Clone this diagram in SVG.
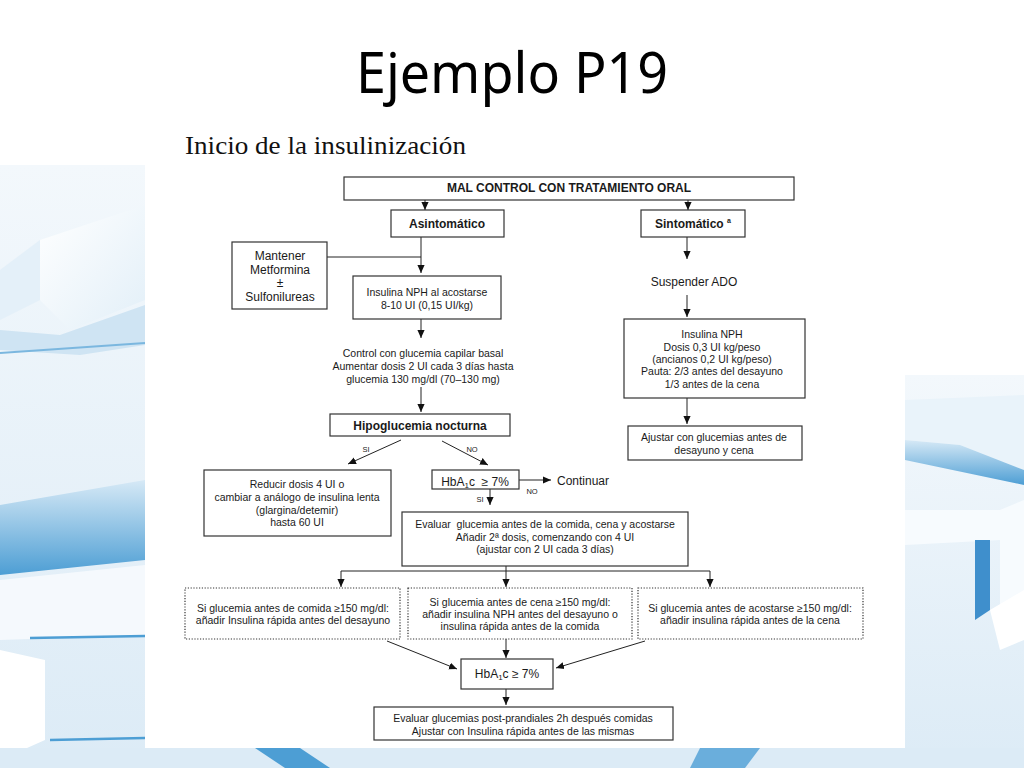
<svg xmlns="http://www.w3.org/2000/svg" width="1024" height="768" viewBox="0 0 1024 768">
<defs>
<marker id="ah" viewBox="0 0 10 10" refX="10" refY="5" markerUnits="userSpaceOnUse" markerWidth="8" markerHeight="8" orient="auto">
<path d="M0,0.5 L10,5 L0,9.5 z" fill="#111"/>
</marker>
<linearGradient id="bgL" x1="0" y1="0" x2="0" y2="1">
<stop offset="0" stop-color="#f3f8fc"/><stop offset="1" stop-color="#dcebf6"/>
</linearGradient>
<linearGradient id="band" x1="0" y1="0" x2="0" y2="1">
<stop offset="0" stop-color="#d6e9f6"/><stop offset="1" stop-color="#4d9ed4"/>
</linearGradient>
<linearGradient id="face" x1="0" y1="0" x2="1" y2="1">
<stop offset="0" stop-color="#ffffff"/><stop offset="1" stop-color="#e2eff8"/>
</linearGradient>
<style>
.box{fill:#fff;stroke:#333;stroke-width:1.2}
.dot{fill:#fff;stroke:#333;stroke-width:1.2;stroke-dasharray:1.2 1.6}
.ln{fill:none;stroke:#222;stroke-width:1}
.ar{fill:none;stroke:#222;stroke-width:1;marker-end:url(#ah)}
.t{font-family:"Liberation Sans",Arial,sans-serif;font-size:10.5px;fill:#1a1a1a;text-anchor:middle}
.tm{font-family:"Liberation Sans",Arial,sans-serif;font-size:12px;fill:#1a1a1a;text-anchor:middle}
.tb{font-family:"Liberation Sans",Arial,sans-serif;font-size:12px;font-weight:bold;fill:#1a1a1a;text-anchor:middle}
.ts{font-family:"Liberation Sans",Arial,sans-serif;font-size:7.5px;fill:#1a1a1a;text-anchor:middle}
</style>
</defs>
<rect x="0" y="0" width="1024" height="768" fill="#fff"/>
<!-- background pattern -->
<g id="background">
<rect x="0" y="165" width="145" height="603" fill="url(#bgL)"/>
<polygon points="40,240 145,205 145,300 70,330 40,300" fill="url(#face)"/>
<polygon points="0,270 40,240 40,300 0,320" fill="#e4f0f9"/>
<polygon points="0,330 60,335 145,305 145,345 80,355 0,350" fill="#cfe4f3"/>
<line x1="0" y1="353" x2="145" y2="343" stroke="#7bb7df" stroke-width="2"/>
<polygon points="0,505 145,480 145,560 0,575" fill="url(#band)"/>
<polygon points="0,580 145,565 145,635 0,640" fill="#f5f9fd"/>
<line x1="30" y1="638" x2="145" y2="636" stroke="#4d9ed4" stroke-width="2.5"/>
<polygon points="0,650 45,660 45,740 0,760" fill="#ffffff"/>
<line x1="50" y1="740" x2="145" y2="738" stroke="#4d9ed4" stroke-width="2.5"/>
<rect x="905" y="375" width="119" height="393" fill="url(#bgL)"/>
<polygon points="905,400 1024,395 1024,470 960,445 905,440" fill="#e9f3fa"/>
<polygon points="905,440 960,445 1024,470 1024,485 905,460" fill="url(#band)"/>
<polygon points="905,510 1000,510 1024,500 1024,640 1000,640 1000,540 905,545" fill="#f7fbfe"/>
<polygon points="975,540 990,540 990,610 975,620" fill="#3f8fcc"/>
<polygon points="990,610 1024,590 1024,640 1000,650" fill="#ffffff"/>
<rect x="0" y="748" width="1024" height="20" fill="#dcebf6"/>
<polygon points="255,748 300,748 330,768 285,768" fill="#4d9ed4"/>
<polygon points="700,748 760,748 745,768 690,768" fill="#6aaedc"/>
<rect x="145" y="0" width="760" height="748" fill="#fff"/>
</g>
<g id="titles">
<text x="356" y="93" font-family="'Noto Sans','Open Sans',sans-serif" font-size="56" textLength="312" lengthAdjust="spacingAndGlyphs" fill="#000">Ejemplo P19</text>
<text x="185" y="154" font-family="'Liberation Serif','Times New Roman',serif" font-size="26" textLength="281" lengthAdjust="spacingAndGlyphs" fill="#111">Inicio de la insulinización</text>
</g>
<g id="connectors">
<line class="ar" x1="425" y1="200" x2="425" y2="210"/>
<line class="ar" x1="688" y1="200" x2="688" y2="210"/>
<line class="ln" x1="327" y1="257" x2="421" y2="257"/>
<line class="ar" x1="421" y1="237" x2="421" y2="273"/>
<line class="ar" x1="421" y1="319" x2="421" y2="338"/>
<line class="ar" x1="421" y1="387" x2="421" y2="412"/>
<line class="ar" x1="401" y1="440" x2="348" y2="464"/>
<line class="ar" x1="442" y1="441" x2="488" y2="465"/>
<line class="ar" x1="519" y1="480" x2="551" y2="480"/>
<line class="ar" x1="490" y1="488" x2="490" y2="505"/>
<line class="ln" x1="506" y1="566" x2="506" y2="571"/>
<line class="ln" x1="341" y1="571" x2="710" y2="571"/>
<line class="ar" x1="341" y1="571" x2="341" y2="587"/>
<line class="ar" x1="506" y1="571" x2="506" y2="587"/>
<line class="ar" x1="710" y1="571" x2="710" y2="587"/>
<line class="ar" x1="387" y1="641" x2="457" y2="669"/>
<line class="ar" x1="506" y1="639" x2="506" y2="658"/>
<line class="ar" x1="645" y1="641" x2="556" y2="668"/>
<line class="ar" x1="506" y1="689" x2="506" y2="705"/>
<line class="ar" x1="687" y1="237" x2="687" y2="259"/>
<line class="ar" x1="687" y1="295" x2="687" y2="317"/>
<line class="ar" x1="687" y1="398" x2="687" y2="424"/>
<text class="ts" x="366" y="452">SI</text>
<text class="ts" x="472" y="452">NO</text>
<text class="ts" x="532" y="494">NO</text>
<text class="ts" x="480" y="502">SI</text>
</g>
<g id="n-malcontrol">
<rect class="box" x="344" y="177" width="450" height="23"/>
<text class="tb" x="569" y="192">MAL CONTROL CON TRATAMIENTO ORAL</text>
</g>
<g id="n-asintomatico">
<rect class="box" x="391" y="210" width="113" height="27"/>
<text class="tb" x="447" y="228">Asintomático</text>
</g>
<g id="n-sintomatico">
<rect class="box" x="641" y="210" width="104" height="27"/>
<text class="tb" x="693" y="228">Sintomático <tspan font-size="7" dy="-5">a</tspan></text>
</g>
<g id="n-mantener">
<rect class="box" x="232" y="242" width="95" height="67"/>
<text class="tm" x="280" y="260">Mantener</text>
<text class="tm" x="280" y="274">Metformina</text>
<text class="tm" x="280" y="287">±</text>
<text class="tm" x="280" y="301">Sulfonilureas</text>
</g>
<g id="n-nph-acostarse">
<rect class="box" x="353" y="276" width="148" height="43"/>
<text class="t" x="427" y="296">Insulina NPH al acostarse</text>
<text class="t" x="427" y="309">8-10 UI (0,15 UI/kg)</text>
</g>
<g id="n-control">
<text class="t" x="423" y="357">Control con glucemia capilar basal</text>
<text class="t" x="423" y="370">Aumentar dosis 2 UI cada 3 días hasta</text>
<text class="t" x="423" y="383">glucemia 130 mg/dl (70–130 mg)</text>
</g>
<g id="n-hipoglucemia">
<rect class="box" x="330" y="414" width="180" height="22"/>
<text class="tb" x="420" y="430">Hipoglucemia nocturna</text>
</g>
<g id="n-reducir">
<rect class="box" x="204" y="470" width="187" height="66"/>
<text class="t" x="297" y="488">Reducir dosis 4 UI o</text>
<text class="t" x="297" y="501">cambiar a análogo de insulina lenta</text>
<text class="t" x="297" y="514">(glargina/detemir)</text>
<text class="t" x="297" y="526">hasta 60 UI</text>
</g>
<g id="n-hba1c-1">
<rect class="box" x="432" y="470" width="87" height="19"/>
<text class="tm" x="475" y="486" xml:space="preserve">HbA<tspan font-size="8" dy="2">1</tspan><tspan dy="-2">c  ≥ 7%</tspan></text>
</g>
<g id="n-continuar">
<text class="tm" x="557" y="485" text-anchor="start" style="text-anchor:start">Continuar</text>
</g>
<g id="n-evaluar">
<rect class="box" x="402" y="512" width="286" height="54"/>
<text class="t" x="545" y="528" xml:space="preserve">Evaluar  glucemia antes de la comida, cena y acostarse</text>
<text class="t" x="545" y="541">Añadir 2ª dosis, comenzando con 4 UI</text>
<text class="t" x="545" y="553">(ajustar con 2 UI cada 3 días)</text>
</g>
<g id="n-comida">
<rect class="dot" x="185" y="588" width="215" height="51"/>
<text class="t" x="293" y="612">Si glucemia antes de comida ≥150 mg/dl:</text>
<text class="t" x="293" y="624">añadir Insulina rápida antes del desayuno</text>
</g>
<g id="n-cena">
<rect class="dot" x="408" y="588" width="224" height="51"/>
<text class="t" x="520" y="606">Si glucemia antes de cena ≥150 mg/dl:</text>
<text class="t" x="520" y="618">añadir insulina NPH antes del desayuno o</text>
<text class="t" x="520" y="630">insulina rápida antes de la comida</text>
</g>
<g id="n-acostarse">
<rect class="dot" x="638" y="588" width="225" height="51"/>
<text class="t" x="750" y="612">Si glucemia antes de acostarse ≥150 mg/dl:</text>
<text class="t" x="750" y="624">añadir insulina rápida antes de la cena</text>
</g>
<g id="n-hba1c-2">
<rect class="box" x="461" y="659" width="92" height="30"/>
<text class="tm" x="507" y="678">HbA<tspan font-size="8" dy="2">1</tspan><tspan dy="-2">c ≥ 7%</tspan></text>
</g>
<g id="n-final">
<rect class="box" x="374" y="707" width="299" height="33"/>
<text class="t" x="523" y="722">Evaluar glucemias post-prandiales 2h después comidas</text>
<text class="t" x="523" y="735">Ajustar con Insulina rápida antes de las mismas</text>
</g>
<g id="n-suspender">
<text class="tm" x="694" y="286">Suspender ADO</text>
</g>
<g id="n-nph-right">
<rect class="box" x="624" y="319" width="181" height="79"/>
<text class="t" x="712" y="338">Insulina NPH</text>
<text class="t" x="712" y="351">Dosis 0,3 UI kg/peso</text>
<text class="t" x="712" y="363">(ancianos 0,2 UI kg/peso)</text>
<text class="t" x="712" y="375">Pauta: 2/3 antes del desayuno</text>
<text class="t" x="712" y="388">1/3 antes de la cena</text>
</g>
<g id="n-ajustar">
<rect class="box" x="628" y="426" width="174" height="34"/>
<text class="t" x="714" y="441">Ajustar con glucemias antes de</text>
<text class="t" x="714" y="454">desayuno y cena</text>
</g>
</svg>
